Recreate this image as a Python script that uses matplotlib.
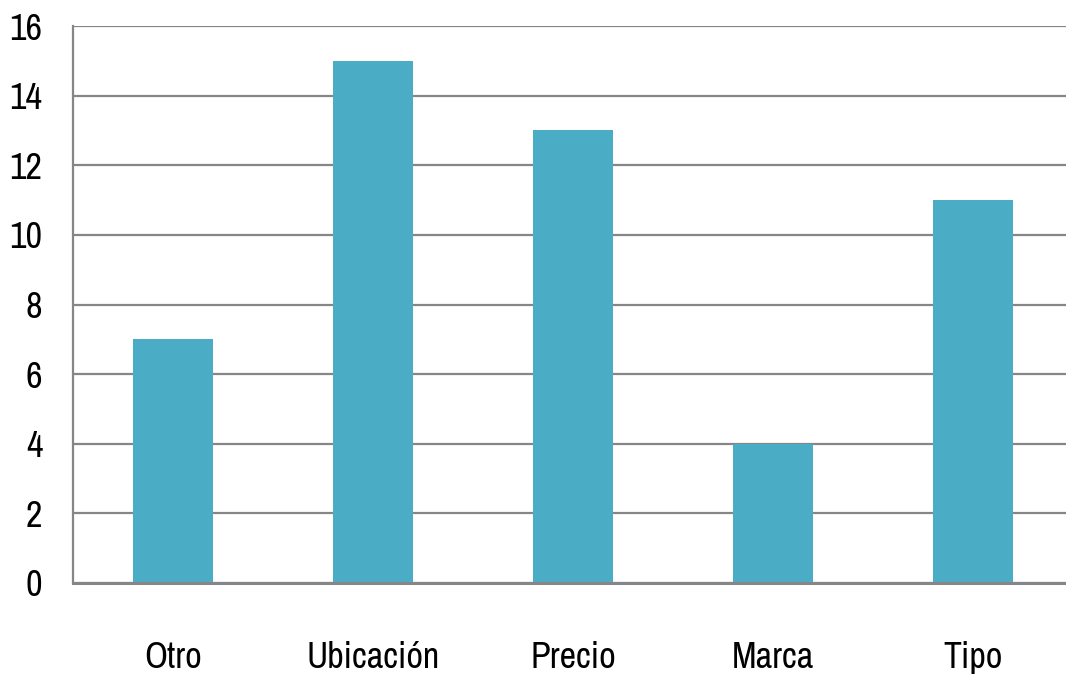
import matplotlib
matplotlib.use('Agg')
import matplotlib.pyplot as plt
from matplotlib import font_manager

categories = ['Otro', 'Ubicación', 'Precio', 'Marca', 'Tipo']
values = [7, 15, 13, 4, 11]
y_ticks = [0, 2, 4, 6, 8, 10, 12, 14, 16]

# prefer a narrow face for the labels when one is installed
font_kw = {'family': ['Liberation Sans', 'DejaVu Sans']}
label_size = 23
for f in font_manager.fontManager.ttflist:
    if 'Narrow' in f.name or 'Condensed' in f.name:
        font_kw = {'family': [f.name, 'DejaVu Sans']}
        label_size = 26
        break
    if f.stretch in ('condensed', 'semi-condensed') and f.name == 'DejaVu Sans':
        font_kw = {'family': ['DejaVu Sans'], 'stretch': f.stretch}
        label_size = 25

plt.rcParams['font.family'] = font_kw['family']
plt.rcParams['font.weight'] = 'light'
if 'stretch' in font_kw:
    plt.rcParams['font.stretch'] = font_kw['stretch']

grid_color = '#868686'
bar_color = '#4BACC6'

fig = plt.figure(figsize=(10.66, 6.77), dpi=100)
ax = fig.add_axes([73 / 1066, 94 / 677, 1000 / 1066, 557 / 677])

x = range(len(categories))
ax.bar(x, values, width=0.4, color=bar_color, zorder=3)

ax.set_xlim(-0.5, len(categories) - 0.5)
ax.set_ylim(0, 16)
ax.set_yticks(y_ticks)
ax.set_xticks(list(x))
ax.set_xticklabels(categories)

ax.yaxis.grid(True, color=grid_color, linewidth=1.6, zorder=1)
ax.tick_params(axis='both', length=0, labelsize=label_size, colors='black')
ax.tick_params(axis='y', pad=22)
ax.tick_params(axis='x', pad=42)

for side in ['top', 'right']:
    ax.spines[side].set_visible(False)
ax.spines['left'].set_color(grid_color)
ax.spines['left'].set_linewidth(1.6)
ax.spines['bottom'].set_color(grid_color)
ax.spines['bottom'].set_linewidth(2.2)
ax.spines['bottom'].set_zorder(4)

fig.savefig('out.png', dpi=100)
